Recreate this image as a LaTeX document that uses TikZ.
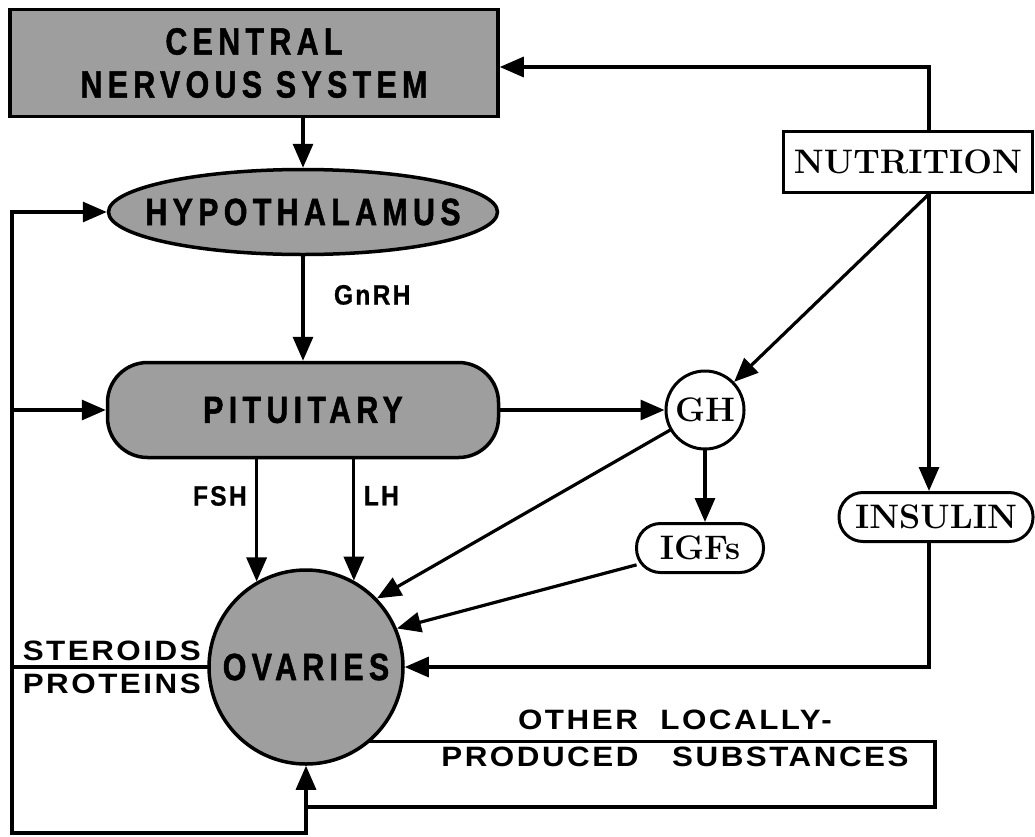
\documentclass[tikz,border=0pt]{standalone}
\usepackage{fontspec}
\usepackage{tikz}
\usetikzlibrary{positioning,arrows.meta,shapes.geometric}
\newfontfamily\organfont{Liberation Sans}[FakeStretch=0.8, FakeBold=1.2, LetterSpace=14]
\newfontfamily\tagfont{Liberation Sans}[FakeStretch=0.88, FakeBold=0.6, LetterSpace=8]
\newfontfamily\labelfont{Liberation Sans}[FakeStretch=1.12, LetterSpace=9]

\begin{document}
\begin{tikzpicture}[
    x=1pt, y=-1pt,
    organ/.style={draw, line width=3.5pt, fill=black!38, inner sep=0pt},
    organtext/.style={font=\organfont\bfseries\fontsize{38}{43}\selectfont, align=center},
    signal/.style={draw, line width=3pt, fill=white, inner sep=0pt,
      font=\bfseries\fontsize{34}{40}\selectfont},
    tag/.style={font=\tagfont\bfseries\fontsize{28}{30}\selectfont},
    side/.style={font=\labelfont\bfseries\fontsize{28}{37}\selectfont, align=center},
    link/.style={line width=3.2pt, line cap=rect, -{Triangle[length=24pt,width=20pt]}},
    wire/.style={line width=3.2pt, line cap=rect}
]
  \useasboundingbox (0,0) rectangle (1035,836);

  % Define the organs
  \node[organ, organtext, minimum width=488pt, minimum height=107pt] (cns) at (254,63) {CENTRAL\\NERVOUS SYSTEM};
  \node[organ, ellipse, minimum width=389pt, minimum height=85pt,
    label={[organtext]center:HYPOTHALAMUS}] (hypo) at (303,212) {};
  \node[organ, organtext, rounded corners=40pt, minimum width=391pt, minimum height=95pt] (pit) at (303,410) {PITUITARY};
  \node[organ, circle, minimum size=194pt, label={[organtext]center:OVARIES}] (ova) at (306,667) {};

  % metabolic signals
  \node[signal, minimum width=249pt, minimum height=61pt] (nutr) at (908,162) {NUTRITION};
  \node[signal, circle, minimum size=78pt] (gh) at (705,410) {GH};
  \node[signal, rounded corners=24pt, minimum width=127pt, minimum height=49pt] (igf) at (700,548) {IGFs};
  \node[signal, rounded corners=24pt, minimum width=194pt, minimum height=49pt] (ins) at (936,517) {INSULIN};

  % Connections down the axis
  \draw[link] (hypo.north |- cns.south) -- (hypo.north);
  \draw[link] (hypo.south) -- (pit.north) node[tag, pos=0.37, right=26pt] {GnRH};
  \draw[link] (ova.120 |- pit.south) -- (ova.120) node[tag, pos=0.3, left=5pt] {FSH};
  \draw[link] (ova.61 |- pit.south) -- (ova.61) node[tag, pos=0.3, right=5pt] {LH};

  % growth hormone branch
  \draw[link] (pit.east) -- (gh.west);
  \draw[link] (gh.south) -- (gh.south |- igf.north);
  \draw[link] (gh) -- (ova.44);
  \draw[link] (igf) -- (ova.23);

  % nutrition
  \coordinate (rt) at (929,67);
  \draw[link] (nutr.north -| rt) |- (cns.east |- rt);
  \draw[link] (nutr.south -| rt) -- (ins.north -| rt);
  \draw[link] (nutr.south -| rt) -- (gh.44);
  \draw[link] (ins.south -| rt) |- (ova.east);

  % feedback from the ovaries
  \coordinate (lb) at (12,833);
  \draw[link] (lb) |- (hypo.west);
  \draw[link] (lb |- pit.west) -- (pit.west);
  \draw[link] (lb) -| (ova.south);
  \draw[wire] (ova.west) -- (ova.west -| lb);
  \node[side, above left=3pt and 3pt] (ster) at (ova.west) {STEROIDS};
  \node[side, below left=3pt and 3pt] (prot) at (ova.west) {PROTEINS};

  % local loop
  \coordinate (ob) at (935,807);
  \draw[wire] (ova.-49) -- (ova.-49 -| ob) |- (ova.south |- ob);
  \node[side] (other) at (675,738) {OTHER\ \ LOCALLY-\\PRODUCED\ \ \ SUBSTANCES};

\end{tikzpicture}
\end{document}
